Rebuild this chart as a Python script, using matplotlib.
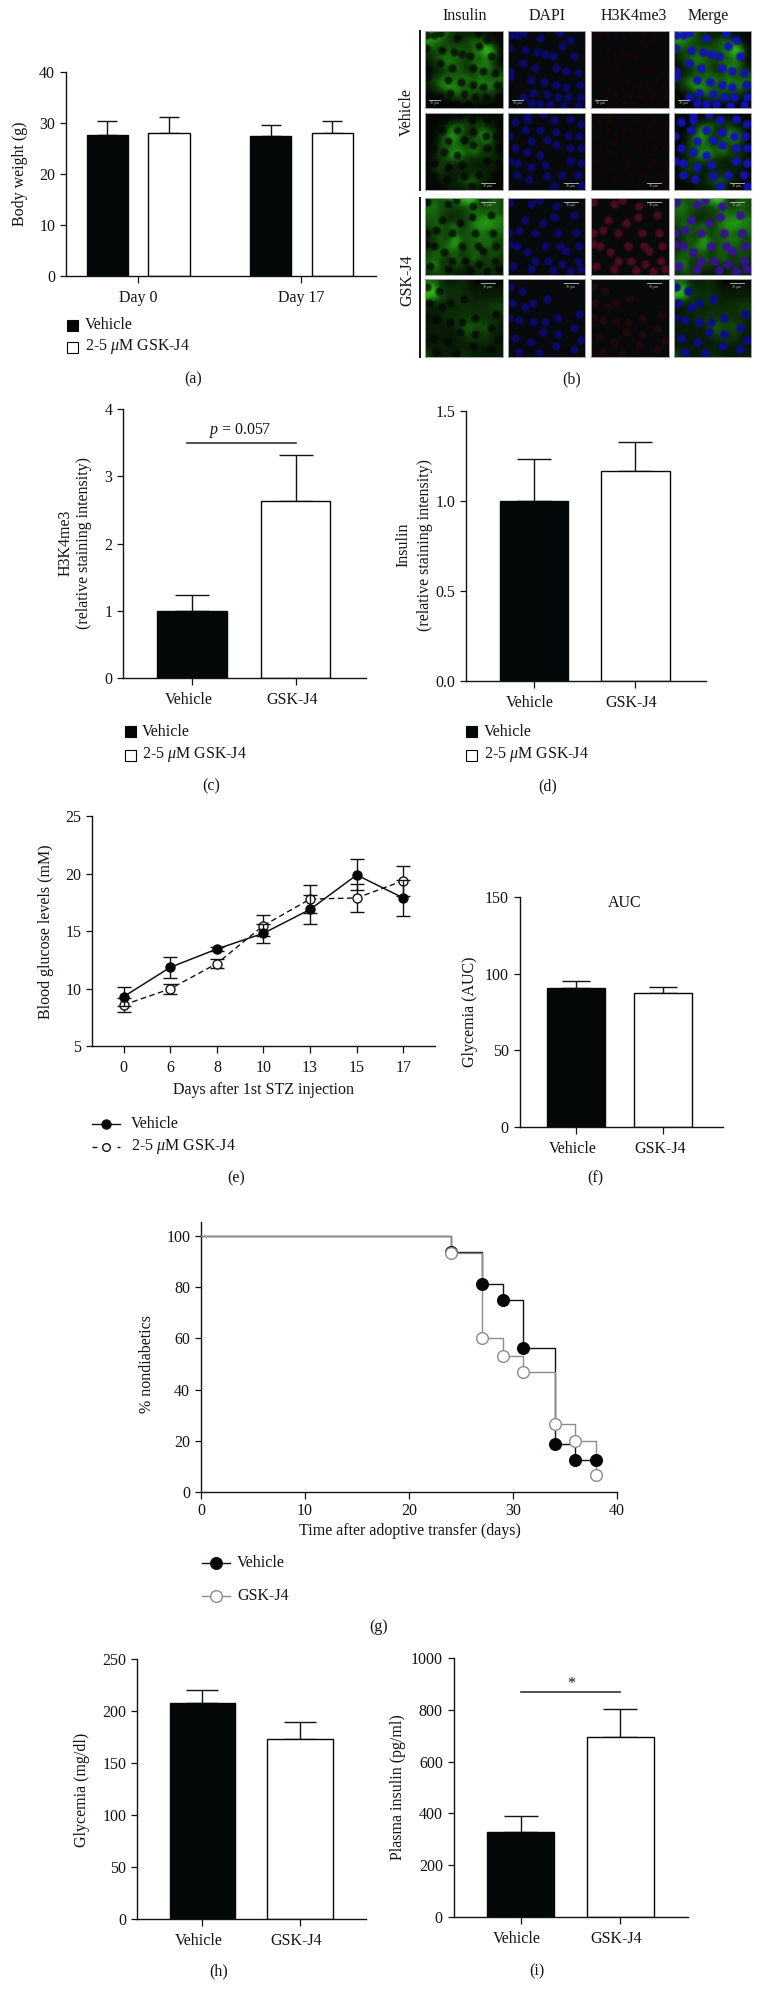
import matplotlib
matplotlib.use("Agg")
import numpy as np
import matplotlib.pyplot as plt
from matplotlib.patches import Rectangle
from matplotlib.colors import LinearSegmentedColormap
from matplotlib.lines import Line2D
from matplotlib.transforms import ScaledTranslation

W, H = 762, 2004
plt.rcParams.update({
    "font.family": ["Liberation Serif", "DejaVu Serif"],
    "font.size": 11.5,
    "mathtext.fontset": "custom",
    "mathtext.rm": "Liberation Serif",
    "mathtext.it": "Liberation Serif:italic",
    "mathtext.bf": "Liberation Serif:bold",
})

# ---------- data ----------
group_labels = ["Vehicle", "GSK-J4"]
legend_gsk = r"2-5 $\mu$M GSK-J4"

a_days = ["Day 0", "Day 17"]
a_vehicle, a_vehicle_err = [27.6, 27.4], [2.7, 2.2]
a_gsk, a_gsk_err = [28.1, 28.1], [3.0, 2.3]

c_vals, c_errs = [1.0, 2.64], [0.23, 0.67]
d_vals, d_errs = [1.0, 1.165], [0.23, 0.16]
f_vals, f_errs = [90.8, 87.3], [4.1, 3.7]
h_vals, h_errs = [208.2, 173.2], [11.8, 16.1]
i_vals, i_errs = [326, 694], [64, 110]

e_days = [0, 6, 8, 10, 13, 15, 17]
e_vehicle = [9.32, 11.87, 13.46, 14.83, 16.9, 19.9, 17.9]
e_vehicle_err = [0.8, 0.9, 0.15, 0.83, 1.25, 1.35, 1.6]
e_gsk = [8.6, 10.0, 12.2, 15.5, 17.8, 17.9, 19.4]
e_gsk_err = [0.6, 0.43, 0.43, 0.95, 1.2, 1.2, 1.3]

g_times = [0, 24, 27, 29, 31, 34, 36, 38]
g_vehicle = [100, 93.75, 81.25, 75, 56.25, 18.75, 12.5, 12.5]
g_gsk = [100, 93.3, 60, 53.3, 46.7, 26.7, 20, 6.7]

b_columns = ["Insulin", "DAPI", "H3K4me3", "Merge"]
green_grids = [
    ["675321111000", "654322343200", "443333345730", "233444345860",
     "134543343520", "023443245530", "012334234433", "234544535344",
     "135654345552", "012454433331", "000123332210", "000000000000"],
    ["000000000000", "000112332110", "001365214210", "002463235630",
     "003653243520", "013344362310", "013476343220", "012332211211",
     "023211211110", "022112122110", "001113442100", "000111230000"],
    ["343466871343", "453423353343", "443223344443", "343222355655",
     "344353356654", "133342435344", "234274344533", "133564344433",
     "344342343333", "343243343242", "462333132322", "233211112221"],
    ["442112100000", "772222111111", "773222211111", "322222212222",
     "112212222233", "111222222222", "111223333221", "111113433421",
     "111112332311", "111111222211", "111111111111", "311112211111"],
]
nuclei = [
    [(.03,.06),(.12,.05),(.2,.03),(.42,.1),(.68,.03),(.8,.12),(.02,.22),(.22,.25),(.38,.28),
     (.48,.3),(.7,.2),(.85,.32),(.58,.32),(.2,.42),(.35,.48),(.62,.48),(.75,.52),(.9,.55),
     (.03,.52),(.03,.6),(.3,.63),(.47,.66),(.62,.7),(.75,.72),(.93,.7),(.32,.8),(.5,.82),
     (.65,.85),(.78,.86),(.95,.85),(.3,.93),(.42,.95),(.55,.95),(.72,.97),(.9,.96),(.2,.86)],
    [(.25,.02),(.45,.02),(.1,.12),(.25,.1),(.6,.1),(.8,.08),(.95,.15),(.22,.22),(.42,.22),
     (.62,.25),(.78,.3),(.92,.3),(.02,.3),(.3,.36),(.5,.35),(.8,.45),(.95,.45),(.1,.45),
     (.25,.5),(.42,.55),(.62,.42),(.12,.65),(.3,.7),(.48,.68),(.8,.62),(.95,.65),(.02,.62),
     (.12,.8),(.28,.85),(.5,.82),(.7,.8),(.9,.8),(.6,.95),(.95,.95)],
    [(.03,.05),(.3,.08),(.62,.1),(.4,.03),(.22,.28),(.6,.25),(.85,.22),(.45,.32),(.02,.45),
     (.15,.42),(.35,.45),(.65,.45),(.88,.45),(.12,.62),(.25,.7),(.48,.62),(.68,.62),(.92,.62),
     (.75,.68),(.02,.6),(.07,.88),(.35,.82),(.52,.82),(.7,.85),(.9,.82),(.3,.92),(.58,.93),
     (.8,.95),(.95,.92)],
    [(.03,.1),(.18,.15),(.05,.3),(.32,.3),(.22,.35),(.5,.25),(.02,.5),(.15,.52),(.32,.55),
     (.48,.55),(.65,.5),(.92,.45),(.45,.68),(.65,.7),(.85,.62),(.1,.75),(.3,.8),(.62,.85),
     (.15,.93),(.4,.95),(.85,.9),(.95,.78)],
]

# ---------- helpers ----------
fig = plt.figure(figsize=(W / 100, H / 100), dpi=100, facecolor="white")
INK = "#111414"
BAR = "#050808"


def sx(v):
    return v * 0.985


def fx(x):
    return x / W


def fy(y):
    return 1 - y / H


def ftext(x, y, s, **kw):
    kw.setdefault("ha", "center")
    kw.setdefault("va", "center")
    return fig.text(fx(x), fy(y), s, color=INK, **kw)


def make_axes(left, right, top, bottom):
    ax = fig.add_axes([fx(left), fy(bottom), (right - left) / W, (bottom - top) / H])
    ax.set_facecolor("none")
    for s in ("top", "right"):
        ax.spines[s].set_visible(False)
    for s in ("left", "bottom"):
        ax.spines[s].set_linewidth(1.0)
        ax.spines[s].set_color(INK)
    ax.tick_params(axis="y", length=4.3, width=0.9, pad=3.5, color=INK, labelcolor=INK)
    ax.tick_params(axis="x", length=5, width=0.9, pad=5, color=INK, labelcolor=INK)
    return ax


def shift_xlabels(ax, dx_px):
    off = ScaledTranslation(dx_px / 100, 0, fig.dpi_scale_trans)
    for lab in ax.get_xticklabels():
        lab.set_transform(lab.get_transform() + off)


def bars(ax, xs, vals, errs, width, cap_pt, colors):
    for x, v, e, col in zip(xs, vals, errs, colors):
        ax.bar(x, v, width=width, color=col, edgecolor=BAR, linewidth=1.0, zorder=2)
        ax.errorbar(x, v, yerr=[[0], [e]], color=INK, capsize=cap_pt, elinewidth=1.0,
                    capthick=1.0, zorder=1, fmt="none")


def two_bar_panel(left, right, top, bottom, ymax, yticks, ylabs, p0, p1, barpx, vals, errs, dx):
    left, right, p0, p1, barpx = sx(left), sx(right), sx(p0), sx(p1), sx(barpx)
    ax = make_axes(left, right, top, bottom)
    s = p1 - p0
    ax.set_xlim((left - p0) / s, (right - p0) / s)
    ax.set_ylim(0, ymax)
    ax.set_yticks(yticks)
    ax.set_yticklabels(ylabs)
    ax.set_xticks([0, 1])
    ax.set_xticklabels(group_labels)
    bars(ax, [0, 1], vals, errs, barpx / s, barpx / 4 * 0.72, [BAR, "white"])
    shift_xlabels(ax, dx)
    return ax


def bar_legend(x, y1, y2, tx):
    x, tx = sx(x), sx(tx)
    for y, col in ((y1, BAR), (y2, "white")):
        fig.add_artist(Rectangle((fx(x), fy(y + 5.5)), 11.5 / W, 11 / H, transform=fig.transFigure,
                                 facecolor=col, edgecolor=BAR, linewidth=0.8))
    ftext(tx, y1, "Vehicle", ha="left")
    ftext(tx, y2, legend_gsk, ha="left")


def line_legend(x0, x1, y1, y2, tx, style1, style2, text2):
    for y, st, lab in ((y1, style1, "Vehicle"), (y2, style2, text2)):
        fig.add_artist(Line2D([fx(x0), fx(x1)], [fy(y), fy(y)], transform=fig.transFigure,
                              color=st["color"], linestyle=st["ls"], linewidth=1.0))
        fig.add_artist(Line2D([fx((x0 + x1) / 2)], [fy(y)], transform=fig.transFigure, marker="o",
                              markersize=st["ms"], markerfacecolor=st["fc"],
                              markeredgecolor=st["color"], markeredgewidth=1.0, linestyle="none"))
        ftext(tx, y, lab, ha="left")


def soft_dots(pa, nx, ny, color, strength=1.0, size=1.0):
    for s, al in ((62, 0.22), (42, 0.4), (24, 0.6)):
        pa.scatter(nx, ny, s=s * size, color=color, alpha=al * strength, linewidths=0, zorder=2)


# ---------- (a) ----------
ax = make_axes(sx(67), sx(382), 71.7, 276.3)
p0, p1 = sx(140.4), sx(306)
sp = p1 - p0
ax.set_xlim((sx(67) - p0) / sp, (sx(382) - p0) / sp)
ax.set_ylim(0, 40)
ax.set_yticks([0, 10, 20, 30, 40])
ax.set_xticks([0, 1])
ax.set_xticklabels(a_days)
off = sx(31.3) / sp
bw = sx(42) / sp
bars(ax, [-off, 1 - off], a_vehicle, a_vehicle_err, bw, 7.5, [BAR, BAR])
bars(ax, [off, 1 + off], a_gsk, a_gsk_err, bw, 7.5, ["white", "white"])
ftext(20, 174, "Body weight (g)", rotation=90)
bar_legend(68, 325, 347, 86)
ftext(193, 379, "(a)")

# ---------- (b) ----------
col_x = [(424.7, 502.7), (507.7, 585.3), (591, 668.7), (673.7, 751.3)]
row_y = [(30.7, 108.3), (112.7, 190.3), (198, 275.3), (279.3, 357.3)]
col_titles_x = [465, 546.7, 634, 708]
for tx, name in zip(col_titles_x, b_columns):
    ftext(tx, 16, name)
ftext(407, 112, "Vehicle", rotation=90)
ftext(407, 280, "GSK-J4", rotation=90)
for y0, y1 in ((30.7, 190.3), (198, 357.3)):
    fig.add_artist(Line2D([fx(420), fx(420)], [fy(y0), fy(y1)], transform=fig.transFigure,
                          color=INK, linewidth=1.4))
green_cmap = LinearSegmentedColormap.from_list("g", ["#040704", "#0e3a08", "#1f8c12", "#3cd020"])
dark = "#07090a"
bar_pos = [(.05, .2, .89), (.72, .9, .9), (.72, .9, .05), (.72, .9, .05)]
for r, (ytop, ybot) in enumerate(row_y):
    grid = np.array([[int(ch) for ch in row] for row in green_grids[r]], dtype=float)
    nx = [p[0] for p in nuclei[r]]
    ny = [p[1] for p in nuclei[r]]
    for c, (xl, xr) in enumerate(col_x):
        pa = make_axes(xl, xr, ytop, ybot)
        pa.set_xlim(0, 1)
        pa.set_ylim(1, 0)
        pa.set_xticks([])
        pa.set_yticks([])
        pa.set_facecolor(dark)
        for s in pa.spines.values():
            s.set_visible(True)
            s.set_color("#a0a4a4")
            s.set_linewidth(0.7)
        if c in (0, 3):
            pa.imshow(grid, cmap=green_cmap, vmin=0, vmax=8, extent=(0, 1, 1, 0),
                      interpolation="bicubic", aspect="auto", zorder=1)
        if c == 0:
            soft_dots(pa, nx, ny, "#040704", 0.9, 0.8)
        if c == 1:
            soft_dots(pa, nx, ny, "#0a0a88", 0.9, 0.9)
        if c == 2:
            red = "#5a0c22" if r == 2 else ("#240810" if r == 3 else "#140709")
            soft_dots(pa, nx, ny, red, 1.0, 0.9)
        if c == 3:
            blue = "#38109a" if r == 2 else ("#0c0c90" if r == 3 else "#1212b8")
            soft_dots(pa, nx, ny, blue, 1.4, 0.9)
        u0, u1, v = bar_pos[r]
        pa.plot([u0, u1], [v, v], color="#c8c8c8", lw=0.6, zorder=3)
        pa.text((u0 + u1) / 2, v + 0.045, "10 $\\mu$m", color="#b0b0b0",
                fontsize=2.8, ha="center", va="center", zorder=3)
        pa.set_xlim(0, 1)
        pa.set_ylim(1, 0)
ftext(572, 379, "(b)")

# ---------- (c) ----------
ax = two_bar_panel(125, 372, 409, 678.3, 4, [0, 1, 2, 3, 4], ["0", "1", "2", "3", "4"],
                   195, 300, 70.5, c_vals, c_errs, -3.5)
ax.plot([-0.05, 1], [3.49, 3.49], color="#333", lw=1.2)
ftext(sx(244), 430.7, "$p$ = 0.057")
ftext(65.5, 543, "H3K4me3", rotation=90)
ftext(84.5, 543, "(relative staining intensity)", rotation=90)
bar_legend(126.6, 732, 755, 144)
ftext(211, 786.7, "(c)")

# ---------- (d) ----------
ax = two_bar_panel(473, 716.7, 410.7, 681, 1.5, [0, .5, 1, 1.5], ["0.0", "0.5", "1.0", "1.5"],
                   542, 645, 69.5, d_vals, d_errs, -4)
ftext(403, 545, "Insulin", rotation=90)
ftext(425, 545, "(relative staining intensity)", rotation=90)
bar_legend(473, 732, 755, 491)
ftext(548, 786.7, "(d)")

# ---------- (e) ----------
ax = make_axes(sx(93.6), sx(442), 816.3, 1046.3)
sp = sx(47.3)
ax.set_xlim((sx(93.6) - sx(125.6)) / sp, (sx(442) - sx(125.6)) / sp)
ax.set_ylim(5, 25)
ax.set_yticks([5, 10, 15, 20, 25])
idx = np.arange(len(e_days))
ax.set_xticks(idx)
ax.set_xticklabels([str(d) for d in e_days])
ax.errorbar(idx, e_gsk, yerr=e_gsk_err, color=INK, ls="--", lw=1.0, capsize=5, capthick=1.0,
            elinewidth=1.0, marker="o", ms=6.5, mfc="white", mec=INK, mew=1.0, zorder=2,
            dashes=(4, 2.5))
ax.errorbar(idx, e_vehicle, yerr=e_vehicle_err, color=INK, ls="-", lw=1.1, capsize=5, capthick=1.0,
            elinewidth=1.0, marker="o", ms=6.5, mfc=BAR, mec=BAR, zorder=3)
ftext(46, 931.7, "Blood glucose levels (mM)", rotation=90)
ftext(sx(267.5), 1090, "Days after 1st STZ injection")
line_legend(sx(93.6), sx(122), 1124, 1146.7, sx(133),
            {"color": INK, "ls": "-", "ms": 6.5, "fc": BAR},
            {"color": INK, "ls": (0, (3.5, 5.5)), "ms": 5.5, "fc": "white"}, legend_gsk)
ftext(236, 1178, "(e)")

# ---------- (f) ----------
ax = two_bar_panel(527.6, 734, 897, 1126.7, 150, [0, 50, 100, 150], ["0", "50", "100", "150"],
                   585, 673.4, 58.6, f_vals, f_errs, -3)
ftext(625, 903, "AUC")
ftext(470, 1011.7, "Glycemia (AUC)", rotation=90)
ftext(595, 1178, "(f)")

# ---------- (g) ----------
GRAY = "#8c8c8c"
ax = make_axes(201, 617, 1221.7, 1492.3)
ax.set_xlim(0, 40)
ax.set_ylim(0, 105.45)
ax.set_xticks([0, 10, 20, 30, 40])
ax.set_yticks([0, 20, 40, 60, 80, 100])
ax.tick_params(axis="x", pad=2.5)
ax.step(g_times, g_vehicle, where="post", color=INK, lw=1.0, zorder=2)
ax.step(g_times, g_gsk, where="post", color=GRAY, lw=1.0, zorder=3)
ax.plot(g_times[1:], g_vehicle[1:], ls="none", marker="o", ms=8.4, mfc=BAR, mec=BAR, zorder=4)
ax.plot(g_times[1:], g_gsk[1:], ls="none", marker="o", ms=8.4, mfc="white", mec=GRAY, mew=1.0, zorder=5)
ftext(147, 1364, "% nondiabetics", rotation=90)
ftext(409.6, 1531, "Time after adoptive transfer (days)")
line_legend(202, 230, 1563, 1596, 237,
            {"color": INK, "ls": "-", "ms": 8.4, "fc": BAR},
            {"color": GRAY, "ls": "-", "ms": 8.4, "fc": "white"}, "GSK-J4")
ftext(379, 1627, "(g)")

# ---------- (h) ----------
ax = two_bar_panel(139.4, 372, 1659.3, 1918.7, 250, [0, 50, 100, 150, 200, 250],
                   ["0", "50", "100", "150", "200", "250"], 205.4, 304.4, 66.5, h_vals, h_errs, -3.5)
ftext(82, 1789.7, "Glycemia (mg/dl)", rotation=90)
ftext(219, 1971.7, "(h)")

# ---------- (i) ----------
ax = two_bar_panel(460.6, 698.5, 1658.3, 1916.7, 1000, [0, 200, 400, 600, 800, 1000],
                   ["0", "200", "400", "600", "800", "1000"], 528.6, 629.5, 68, i_vals, i_errs, -4)
ax.plot([0, 1], [871, 871], color="#333", lw=1.2)
ftext(sx(580), 1684, "*")
ftext(398.5, 1787, "Plasma insulin (pg/ml)", rotation=90)
ftext(537, 1971.7, "(i)")

fig.savefig("out.png", dpi=100, facecolor="white")
